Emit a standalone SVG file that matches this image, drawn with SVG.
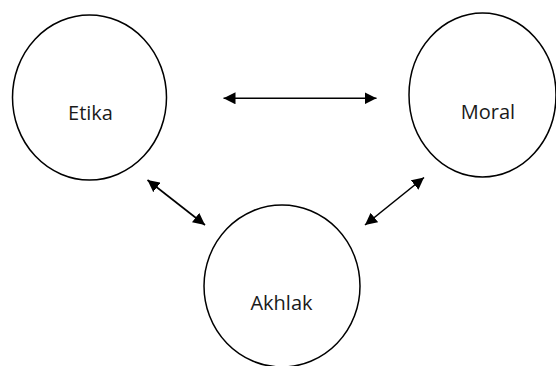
<svg xmlns="http://www.w3.org/2000/svg" width="556" height="366" viewBox="0 0 556 366">
<style>
.node{fill:#fff;stroke:#000;stroke-width:1.5}
.lbl{font-family:"Open Sans","Liberation Sans",sans-serif;font-size:20px;fill:#1a1a1a;text-anchor:middle}
.conn{stroke:#000;stroke-width:1.6;fill:none;marker-start:url(#ah);marker-end:url(#ah)}
</style>
<defs>
<marker id="ah" viewBox="0 0 10 10" refX="10" refY="5" markerWidth="7.5" markerHeight="7.5" markerUnits="strokeWidth" orient="auto-start-reverse">
<path d="M0,0 L10,5 L0,10 Z" fill="#000"/>
</marker>
</defs>
<rect width="556" height="366" fill="#fff"/>
<g id="etika">
<ellipse class="node" cx="89.5" cy="97.5" rx="77" ry="82.5"/>
<text class="lbl" x="90.5" y="120">Etika</text>
</g>
<g id="moral">
<ellipse class="node" cx="482.5" cy="95" rx="73.5" ry="82"/>
<text class="lbl" x="488" y="118.5">Moral</text>
</g>
<g id="akhlak">
<ellipse class="node" cx="282" cy="286" rx="78" ry="81"/>
<text class="lbl" x="281.5" y="310">Akhlak</text>
</g>
<g id="connectors">
<line class="conn" x1="223.5" y1="98.3" x2="376.5" y2="98.3"/>
<line class="conn" x1="147.5" y1="180" x2="205" y2="225"/>
<line class="conn" x1="424" y1="177.5" x2="365" y2="225"/>
</g>
</svg>
